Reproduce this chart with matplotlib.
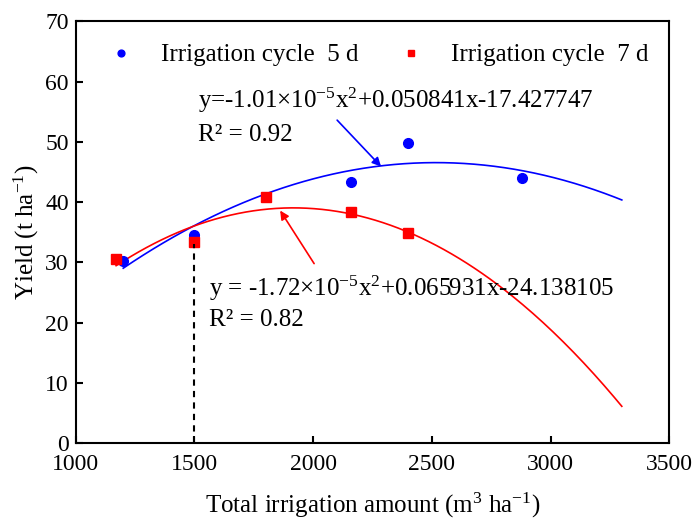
import numpy as np
import matplotlib.pyplot as plt

plt.rcParams['font.family'] = ['Liberation Serif', 'DejaVu Serif']
plt.rcParams['mathtext.fontset'] = 'custom'
plt.rcParams['mathtext.rm'] = 'Liberation Serif'
plt.rcParams['mathtext.it'] = 'Liberation Serif:italic'

# measured points
x5 = [1200, 1500, 2160, 2400, 2880]
y5 = [30.2, 34.5, 43.4, 49.8, 44.0]
x7 = [1170, 1500, 1800, 2160, 2400]
y7 = [30.5, 33.4, 40.8, 38.4, 34.8]

# fitted quadratic coefficients (a, b, c)
fit5 = [-1.01e-5, 0.050841, -17.427747]
fit7 = [-1.72e-5, 0.065931, -24.138105]
fit5_range = [1200, 3300]
fit7_range = [1170, 3300]

xs5 = np.linspace(fit5_range[0], fit5_range[1], 200)
xs7 = np.linspace(fit7_range[0], fit7_range[1], 200)

fig, ax = plt.subplots(figsize=(6.95, 5.19), dpi=100)
fig.subplots_adjust(left=0.109, right=0.963, bottom=0.146, top=0.959)

ax.plot(xs5, np.polyval(fit5, xs5), color='blue', lw=1.2)
ax.plot(xs7, np.polyval(fit7, xs7), color='red', lw=1.2)
ax.plot(x5, y5, 'o', color='blue', ms=7, label='Irrigation cycle  5 d')
ax.plot(x7, y7, 's', color='red', ms=6.5, label='Irrigation cycle  7 d')

ax.plot([1500, 1500], [0, 33], 'k--', lw=1.5, dashes=(3, 2.5))

ax.annotate('', xy=(2286, 45.9), xytext=(2101, 53.6),
            arrowprops=dict(arrowstyle='-|>', color='blue', lw=1.2,
                            mutation_scale=13, shrinkA=0, shrinkB=0))
ax.annotate('', xy=(1861, 38.6), xytext=(2004, 29.8),
            arrowprops=dict(arrowstyle='-|>', color='red', lw=1.2,
                            mutation_scale=13, shrinkA=0, shrinkB=0))

fs = 18
ax.text(1513, 56.8, 'y=-1.01×10$^{-5}$x$^{2}$+0.050841x-17.427747',
        fontsize=fs, va='center')
ax.text(1513, 51.2, 'R² = 0.92', fontsize=fs, va='center')
ax.text(1563, 25.7, 'y = -1.72×10$^{-5}$x$^{2}$+0.065931x-24.138105',
        fontsize=fs, va='center')
ax.text(1563, 20.4, 'R² = 0.82', fontsize=fs, va='center')

ax.set_xlim(1000, 3500)
ax.set_ylim(0, 70)
ax.set_xticks(np.arange(1000, 3501, 500))
ax.set_yticks(np.arange(0, 71, 10))
ax.tick_params(direction='in', length=5, width=1.5, labelsize=17,
               top=False, right=False)
ax.tick_params(axis='x', pad=8)
ax.tick_params(axis='y', pad=5)
for s in ax.spines.values():
    s.set_linewidth(1.5)

ax.set_xlabel('Total irrigation amount (m$^{3}$ ha$^{-1}$)', fontsize=fs, labelpad=11)
ax.set_ylabel('Yield (t ha$^{-1}$)', fontsize=fs, labelpad=3)

ax.legend(loc='upper center', ncol=2, frameon=False, fontsize=fs,
          markerscale=0.7, handletextpad=0.6, columnspacing=1.1,
          bbox_to_anchor=(0.5, 1.0))

fig.savefig('out.png', dpi=100)
